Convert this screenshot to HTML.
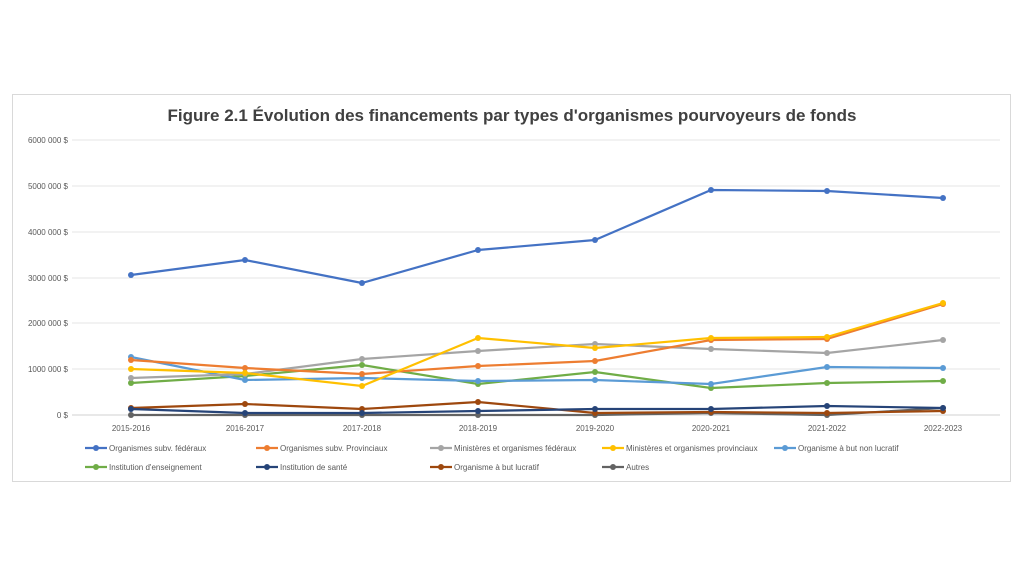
<!DOCTYPE html>
<html><head><meta charset="utf-8"><style>
body{margin:0;background:#fff;width:1024px;height:576px;overflow:hidden}
svg{font-family:"Liberation Sans",sans-serif}
</style></head><body>
<svg width="1024" height="576" viewBox="0 0 1024 576">
<rect x="12.5" y="94.5" width="998" height="387" fill="#fff" stroke="#d9d9d9"/>
<text x="512" y="121" text-anchor="middle" font-size="17" font-weight="bold" fill="#404040">Figure 2.1 Évolution des financements par types d'organismes pourvoyeurs de fonds</text>
<g stroke="#e6e6e6" stroke-width="1">
<line x1="72" x2="1000" y1="140" y2="140"/><line x1="72" x2="1000" y1="186" y2="186"/><line x1="72" x2="1000" y1="232" y2="232"/><line x1="72" x2="1000" y1="278" y2="278"/><line x1="72" x2="1000" y1="323" y2="323"/><line x1="72" x2="1000" y1="369" y2="369"/><line x1="72" x2="1000" y1="415" y2="415" stroke="#d0d0d0"/>
</g>
<g font-size="8" fill="#595959" text-anchor="end">
<text x="68" y="143">6000 000 $</text><text x="68" y="189">5000 000 $</text><text x="68" y="235">4000 000 $</text><text x="68" y="281">3000 000 $</text><text x="68" y="326">2000 000 $</text><text x="68" y="372">1000 000 $</text><text x="68" y="418">0 $</text>
</g>
<g font-size="8" fill="#595959" text-anchor="middle">
<text x="131" y="431">2015-2016</text><text x="245" y="431">2016-2017</text><text x="362" y="431">2017-2018</text><text x="478" y="431">2018-2019</text><text x="595" y="431">2019-2020</text><text x="711" y="431">2020-2021</text><text x="827" y="431">2021-2022</text><text x="943" y="431">2022-2023</text>
</g>
<g fill="none" stroke-width="2.2" stroke-linejoin="round">
<polyline stroke="#636363" points="131,415 245,415 362,415 478,415 595,415 711,413 827,415 943,408"/>
<polyline stroke="#9e480e" points="131,408 245,404 362,409 478,402 595,413 711,412 827,413 943,411"/>
<polyline stroke="#264478" points="131,409 245,413 362,413 478,411 595,409 711,409 827,406 943,408"/>
<polyline stroke="#70ad47" points="131,383 245,376 362,365 478,384 595,372 711,388 827,383 943,381"/>
<polyline stroke="#5b9bd5" points="131,357 245,380 362,378 478,381 595,380 711,384 827,367 943,368"/>
<polyline stroke="#a5a5a5" points="131,378 245,374 362,359 478,351 595,344 711,349 827,353 943,340"/>
<polyline stroke="#ed7d31" points="131,360 245,368 362,374 478,366 595,361 711,340 827,339 943,304"/>
<polyline stroke="#ffc000" points="131,369 245,373 362,386 478,338 595,348 711,338 827,337 943,303"/>
<polyline stroke="#4472c4" points="131,275 245,260 362,283 478,250 595,240 711,190 827,191 943,198"/>
</g>
<g fill="#636363"><circle cx="131" cy="415" r="3"/><circle cx="245" cy="415" r="3"/><circle cx="362" cy="415" r="3"/><circle cx="478" cy="415" r="3"/><circle cx="595" cy="415" r="3"/><circle cx="711" cy="413" r="3"/><circle cx="827" cy="415" r="3"/><circle cx="943" cy="408" r="3"/></g>
<g fill="#9e480e"><circle cx="131" cy="408" r="3"/><circle cx="245" cy="404" r="3"/><circle cx="362" cy="409" r="3"/><circle cx="478" cy="402" r="3"/><circle cx="595" cy="413" r="3"/><circle cx="711" cy="412" r="3"/><circle cx="827" cy="413" r="3"/><circle cx="943" cy="411" r="3"/></g>
<g fill="#264478"><circle cx="131" cy="409" r="3"/><circle cx="245" cy="413" r="3"/><circle cx="362" cy="413" r="3"/><circle cx="478" cy="411" r="3"/><circle cx="595" cy="409" r="3"/><circle cx="711" cy="409" r="3"/><circle cx="827" cy="406" r="3"/><circle cx="943" cy="408" r="3"/></g>
<g fill="#70ad47"><circle cx="131" cy="383" r="3"/><circle cx="245" cy="376" r="3"/><circle cx="362" cy="365" r="3"/><circle cx="478" cy="384" r="3"/><circle cx="595" cy="372" r="3"/><circle cx="711" cy="388" r="3"/><circle cx="827" cy="383" r="3"/><circle cx="943" cy="381" r="3"/></g>
<g fill="#5b9bd5"><circle cx="131" cy="357" r="3"/><circle cx="245" cy="380" r="3"/><circle cx="362" cy="378" r="3"/><circle cx="478" cy="381" r="3"/><circle cx="595" cy="380" r="3"/><circle cx="711" cy="384" r="3"/><circle cx="827" cy="367" r="3"/><circle cx="943" cy="368" r="3"/></g>
<g fill="#a5a5a5"><circle cx="131" cy="378" r="3"/><circle cx="245" cy="374" r="3"/><circle cx="362" cy="359" r="3"/><circle cx="478" cy="351" r="3"/><circle cx="595" cy="344" r="3"/><circle cx="711" cy="349" r="3"/><circle cx="827" cy="353" r="3"/><circle cx="943" cy="340" r="3"/></g>
<g fill="#ed7d31"><circle cx="131" cy="360" r="3"/><circle cx="245" cy="368" r="3"/><circle cx="362" cy="374" r="3"/><circle cx="478" cy="366" r="3"/><circle cx="595" cy="361" r="3"/><circle cx="711" cy="340" r="3"/><circle cx="827" cy="339" r="3"/><circle cx="943" cy="304" r="3"/></g>
<g fill="#ffc000"><circle cx="131" cy="369" r="3"/><circle cx="245" cy="373" r="3"/><circle cx="362" cy="386" r="3"/><circle cx="478" cy="338" r="3"/><circle cx="595" cy="348" r="3"/><circle cx="711" cy="338" r="3"/><circle cx="827" cy="337" r="3"/><circle cx="943" cy="303" r="3"/></g>
<g fill="#4472c4"><circle cx="131" cy="275" r="3"/><circle cx="245" cy="260" r="3"/><circle cx="362" cy="283" r="3"/><circle cx="478" cy="250" r="3"/><circle cx="595" cy="240" r="3"/><circle cx="711" cy="190" r="3"/><circle cx="827" cy="191" r="3"/><circle cx="943" cy="198" r="3"/></g>
<g font-size="8" fill="#595959">
<g stroke-width="2.2">
<line x1="85" x2="107" y1="448" y2="448" stroke="#4472c4"/><circle cx="96" cy="448" r="3" fill="#4472c4"/>
<line x1="256" x2="278" y1="448" y2="448" stroke="#ed7d31"/><circle cx="267" cy="448" r="3" fill="#ed7d31"/>
<line x1="430" x2="452" y1="448" y2="448" stroke="#a5a5a5"/><circle cx="441" cy="448" r="3" fill="#a5a5a5"/>
<line x1="602" x2="624" y1="448" y2="448" stroke="#ffc000"/><circle cx="613" cy="448" r="3" fill="#ffc000"/>
<line x1="774" x2="796" y1="448" y2="448" stroke="#5b9bd5"/><circle cx="785" cy="448" r="3" fill="#5b9bd5"/>
<line x1="85" x2="107" y1="467" y2="467" stroke="#70ad47"/><circle cx="96" cy="467" r="3" fill="#70ad47"/>
<line x1="256" x2="278" y1="467" y2="467" stroke="#264478"/><circle cx="267" cy="467" r="3" fill="#264478"/>
<line x1="430" x2="452" y1="467" y2="467" stroke="#9e480e"/><circle cx="441" cy="467" r="3" fill="#9e480e"/>
<line x1="602" x2="624" y1="467" y2="467" stroke="#636363"/><circle cx="613" cy="467" r="3" fill="#636363"/>
</g>
<text x="109" y="451">Organismes subv. fédéraux</text>
<text x="280" y="451">Organismes subv. Provinciaux</text>
<text x="454" y="451">Ministères et organismes fédéraux</text>
<text x="626" y="451">Ministères et organismes provinciaux</text>
<text x="798" y="451">Organisme à but non lucratif</text>
<text x="109" y="470">Institution d'enseignement</text>
<text x="280" y="470">Institution de santé</text>
<text x="454" y="470">Organisme à but lucratif</text>
<text x="626" y="470">Autres</text>
</g>
</svg>
</body></html>
